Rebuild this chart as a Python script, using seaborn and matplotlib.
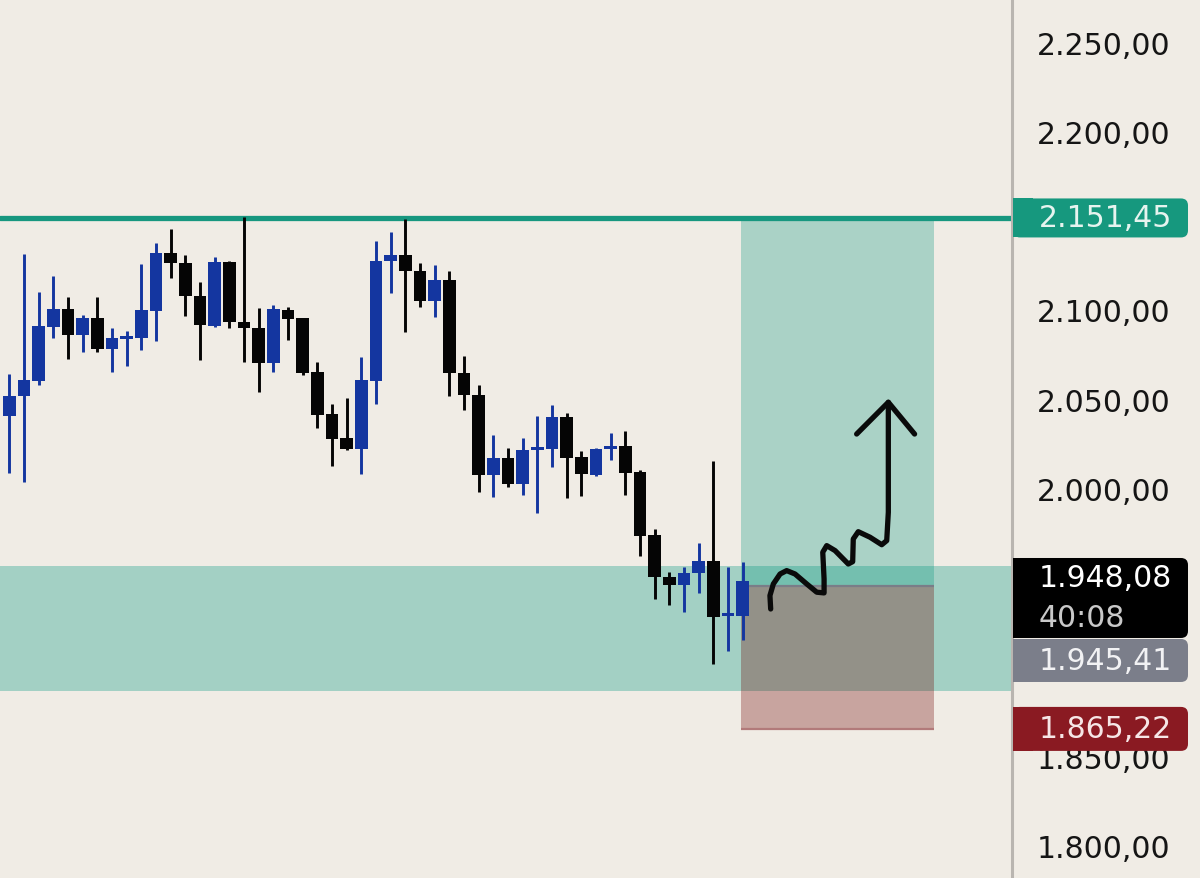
import matplotlib
matplotlib.use("Agg")
import numpy as np
import pandas as pd
import seaborn as sns
import matplotlib.pyplot as plt
from matplotlib.patches import FancyBboxPatch, Rectangle
from matplotlib.ticker import FuncFormatter
from matplotlib.transforms import IdentityTransform

# candles
opens = [2040.7, 2051.9, 2060.3, 2090.2, 2100.5, 2086.1, 2095.4, 2078.1, 2083.7, 2084.1,
         2099.5, 2131.7, 2126.1, 2107.5, 2091.1, 2127.0, 2093.4, 2089.7, 2070.2, 2099.9,
         2095.3, 2065.3, 2041.8, 2028.0, 2022.0, 2060.3, 2127.2, 2130.9, 2121.6, 2104.8,
         2116.9, 2064.4, 2052.5, 2007.5, 2016.8, 2002.4, 2021.6, 2022.2, 2040.1, 2017.4,
         2007.6, 2022.0, 2023.9, 2009.0, 1973.9, 1950.2, 1945.9, 1952.4, 1959.5, 1928.3,
         1928.7]
highs = [2064.1, 2131.3, 2109.8, 2118.8, 2107.4, 2097.3, 2107.4, 2089.7, 2088.3, 2125.7,
         2137.4, 2145.3, 2130.7, 2115.8, 2129.4, 2127.6, 2152.0, 2100.9, 2102.9, 2101.4,
         2095.6, 2070.6, 2047.3, 2050.4, 2073.3, 2138.4, 2143.4, 2151.0, 2126.1, 2125.1,
         2121.9, 2074.3, 2057.9, 2030.1, 2022.4, 2028.2, 2040.7, 2046.7, 2042.0, 2020.8,
         2022.3, 2030.8, 2032.0, 2010.4, 1977.2, 1953.3, 1955.8, 1969.2, 2015.2, 1955.8,
         1958.9]
lows = [2008.6, 2003.4, 2058.1, 2084.1, 2072.5, 2076.2, 2076.5, 2065.3, 2068.4, 2077.5,
        2082.7, 2117.7, 2096.4, 2072.1, 2090.2, 2089.7, 2070.9, 2054.1, 2065.3, 2083.3,
        2063.7, 2033.8, 2012.7, 2021.6, 2008.0, 2047.3, 2109.4, 2087.4, 2101.4, 2095.8,
        2051.9, 2044.1, 1997.8, 1995.0, 2000.9, 1996.4, 1986.2, 2011.8, 1994.6, 1995.9,
        2007.1, 2015.9, 1996.4, 1962.3, 1938.0, 1934.8, 1930.6, 1941.4, 1901.6, 1908.7,
        1915.0]
closes = [2051.9, 2060.7, 2090.8, 2100.5, 2086.1, 2095.4, 2078.1, 2084.2, 2085.2, 2099.9,
          2131.7, 2126.1, 2107.5, 2091.7, 2127.0, 2093.4, 2089.7, 2070.2, 2100.5, 2094.9,
          2064.6, 2041.3, 2027.6, 2022.0, 2060.7, 2127.5, 2130.9, 2121.6, 2104.8, 2116.9,
          2064.4, 2052.5, 2007.5, 2016.8, 2002.4, 2021.6, 2022.6, 2039.8, 2017.0, 2008.0,
          2022.0, 2023.9, 2008.6, 1973.5, 1950.2, 1945.9, 1952.4, 1959.5, 1928.1, 1929.6,
          1948.08]

# levels
resistance = 2151.45
zone_top, zone_bottom = 1956.5, 1886.5
entry_price, target_price, stop_price = 1945.41, 2151.45, 1865.22
last_price = 1948.08
countdown = "40:08"
position_start, position_end = 49.86, 63.03

# axis labels that are not covered by a price tag
price_ticks = [1800, 1850, 2000, 2050, 2100, 2200, 2250]

# hand drawn arrow (bar index, price)
arrow_x = [51.90, 51.85, 52.08, 52.54, 52.99, 53.56, 54.36, 55.04, 55.54, 55.54, 55.45,
           55.72, 56.29, 57.19, 57.49, 57.53, 57.87, 58.67, 59.47, 59.81, 59.92, 59.92]
arrow_y = [1932.4, 1939.9, 1946.4, 1952.0, 1953.9, 1952.0, 1946.4, 1941.8, 1941.4, 1949.2,
           1964.2, 1967.9, 1965.1, 1957.6, 1958.9, 1971.6, 1975.7, 1972.6, 1968.4, 1970.7,
           1986.6, 2048.2]
head_x = [57.76, 59.92, 61.71]
head_y = [2030.4, 2048.2, 2030.4]

bg = "#f0ece5"
teal = "#089981"
blue = "#1436a0"

sns.set_theme(style="white")
plt.rcParams["font.family"] = ["DejaVu Sans"]

df = pd.DataFrame({"open": opens, "high": highs, "low": lows, "close": closes})
df["idx"] = np.arange(len(df))
df["up"] = df["close"] >= df["open"]
df["color"] = np.where(df["up"], blue, "#050505")
df["body_lo"] = df[["open", "close"]].min(axis=1)
df["body_h"] = (df["open"] - df["close"]).abs().clip(lower=1.6)

fig = plt.figure(figsize=(12, 8.79), dpi=100, facecolor=bg)
ax = fig.add_axes([0, 0, 1012 / 1200, 1])
ax.set_facecolor(bg)
ax.set_xlim(-0.634, 68.35)
ax.set_ylim(1781.7, 2274.1)

# zones and position tool
ax.axhspan(zone_bottom, zone_top, color=teal, alpha=0.33, lw=0, zorder=1)
ax.add_patch(Rectangle((position_start, entry_price), position_end - position_start,
                       target_price - entry_price, color=teal, alpha=0.3, lw=0, zorder=1))
ax.add_patch(Rectangle((position_start, stop_price), position_end - position_start,
                       entry_price - stop_price, color="#6e0000", alpha=0.3, lw=0, zorder=1.1))
ax.hlines(entry_price, position_start, position_end, color="#7a7d88", lw=1.6, zorder=1.2)
ax.hlines(stop_price, position_start, position_end, color="#b27a7a", lw=1.6, zorder=1.2)
ax.axhline(resistance, color="#17977f", lw=3.8, zorder=1.5)

# candles
ax.vlines(df["idx"], df["low"], df["high"], colors=df["color"], lw=2.1, zorder=2)
ax.bar(df["idx"], df["body_h"], bottom=df["body_lo"], width=0.86, color=df["color"],
       lw=0, zorder=3)

# arrow
sns.lineplot(x=arrow_x, y=arrow_y, sort=False, estimator=None, color="#0a0a0a", lw=3.8,
             ax=ax, zorder=4, solid_capstyle="round", solid_joinstyle="round")
sns.lineplot(x=head_x, y=head_y, sort=False, estimator=None, color="#0a0a0a", lw=3.8,
             ax=ax, zorder=4, solid_capstyle="round", solid_joinstyle="round")

# price axis
fmt = FuncFormatter(
    lambda v, p=None: f"{v:,.2f}".replace(",", "X").replace(".", ",").replace("X", "."))
ax.yaxis.tick_right()
ax.set_yticks(price_ticks)
ax.yaxis.set_major_formatter(fmt)
ax.tick_params(axis="y", length=0, pad=18, labelsize=21.5, labelcolor="#151515")
ax.set_xticks([])
ax.set_xlabel("")
ax.set_ylabel("")
for s in ["top", "left", "bottom"]:
    ax.spines[s].set_visible(False)
ax.spines["right"].set_color("#b9b5b0")
ax.spines["right"].set_linewidth(2.2)


def py(price):
    return ax.transData.transform((0, price))[1]


def tag(y0, h, color, lines, text_colors):
    box = FancyBboxPatch((1013, y0), 175, h, boxstyle="round,pad=0,rounding_size=7",
                         fc=color, ec="none", transform=IdentityTransform(), zorder=5)
    fig.add_artist(box)
    fig.add_artist(Rectangle((1013, y0), 20, h, fc=color, ec="none",
                             transform=IdentityTransform(), zorder=5))
    n = len(lines)
    for k, (t, c) in enumerate(zip(lines, text_colors)):
        yc = y0 + h - (k + 0.5) * h / n
        fig.text(1039 / 1200, yc / 879, t, color=c, fontsize=21.5, va="center", ha="left",
                 zorder=6)


y = py(resistance)
tag(y - 19.5, 39, "#16987e", [fmt(resistance)], ["#e6f4ef"])
y = py(last_price)
tag(y - 57, 80, "#000000", [fmt(last_price), countdown], ["#ffffff", "#c9c9c9"])
tag(y - 57 - 44, 43, "#7b7e8a", [fmt(entry_price)], ["#f2f2f4"])
y = py(stop_price)
tag(y - 22, 44, "#8a1a22", [fmt(stop_price)], ["#f6e6e6"])

fig.savefig("out.png", dpi=100, facecolor=bg)
